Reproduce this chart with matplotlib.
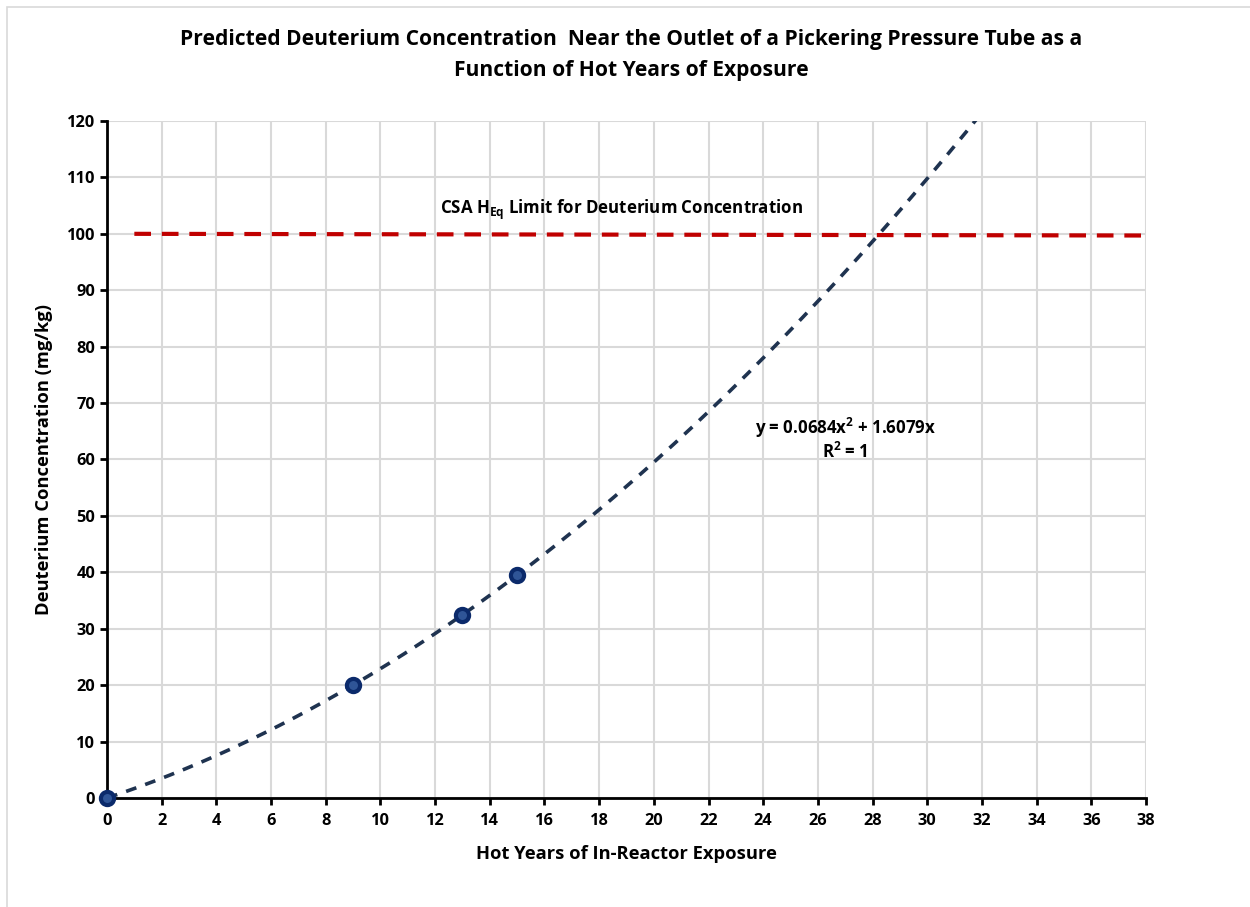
import numpy as np
import matplotlib.pyplot as plt
from matplotlib.patches import Rectangle

# measured points
years = [0, 9, 13, 15]
deuterium = [0, 20, 32.5, 39.5]

# Excel polynomial trendline (order 2, intercept 0)
coef_a = 0.0684
coef_b = 1.6079

# CSA limit line
limit_x = [1, 38]
limit_y = [100, 99.7]

plt.rcParams['font.family'] = ['Open Sans', 'DejaVu Sans']
plt.rcParams['mathtext.fontset'] = 'custom'
plt.rcParams['mathtext.rm'] = 'Open Sans:bold'

fig = plt.figure(figsize=(12.5, 9.07), dpi=100)
ax = fig.add_axes([0.0856, 0.1202, 0.8312, 0.7464])

# light border of chart area
fig.patches.append(Rectangle((7 / 1250, -0.05), 1.2, 1 - 7 / 907 + 0.05,
                             transform=fig.transFigure, fill=False,
                             edgecolor='#D9D9D9', lw=1.2))

xt = np.linspace(0, 38, 400)
ax.plot(xt, coef_a * xt**2 + coef_b * xt, color='#1F3350', lw=2.6,
        dashes=(3.0, 2.6), zorder=3)
ax.plot(limit_x, limit_y, color='#C00000', lw=3.0, dashes=(4.0, 2.6), zorder=3)
ax.scatter(years, deuterium, s=90, facecolor='#2F5597', edgecolor='#0B2A6B',
           linewidth=3, zorder=5, clip_on=False)

ax.set_xlim(0, 38)
ax.set_ylim(0, 120)
ax.set_xticks(np.arange(0, 39, 2))
ax.set_yticks(np.arange(0, 121, 10))
ax.grid(True, color='#D9D9D9', lw=1.5)
ax.set_axisbelow(True)
for s in ['top', 'right']:
    ax.spines[s].set_visible(False)
for s in ['left', 'bottom']:
    ax.spines[s].set_linewidth(2)
ax.tick_params(axis='both', direction='out', length=5, width=2, labelsize=11.8)
ax.tick_params(axis='x', pad=6)
for lbl in ax.get_xticklabels() + ax.get_yticklabels():
    lbl.set_fontweight('bold')

ax.set_xlabel('Hot Years of In-Reactor Exposure', fontsize=13.2, fontweight='bold', labelpad=11)
ax.set_ylabel('Deuterium Concentration (mg/kg)', fontsize=13.2, fontweight='bold', labelpad=10)

fig.text(0.505, 0.9395,
         'Predicted Deuterium Concentration  Near the Outlet of a Pickering Pressure Tube as a\nFunction of Hot Years of Exposure',
         ha='center', va='center', fontsize=15.1, fontweight='bold', linespacing=1.6)

ax.text(18.8, 104.2, r'CSA H$_{\mathregular{Eq}}$ Limit for Deuterium Concentration',
        ha='center', va='center', fontsize=12.2, fontweight='bold')
ax.text(27.0, 65.6, r'y = 0.0684x$^{\mathregular{2}}$ + 1.6079x',
        ha='center', va='center', fontsize=12.2, fontweight='bold')
ax.text(27.0, 61.4, r'R$^{\mathregular{2}}$ = 1',
        ha='center', va='center', fontsize=12.2, fontweight='bold')

fig.savefig('out.png', dpi=100, facecolor='white')
